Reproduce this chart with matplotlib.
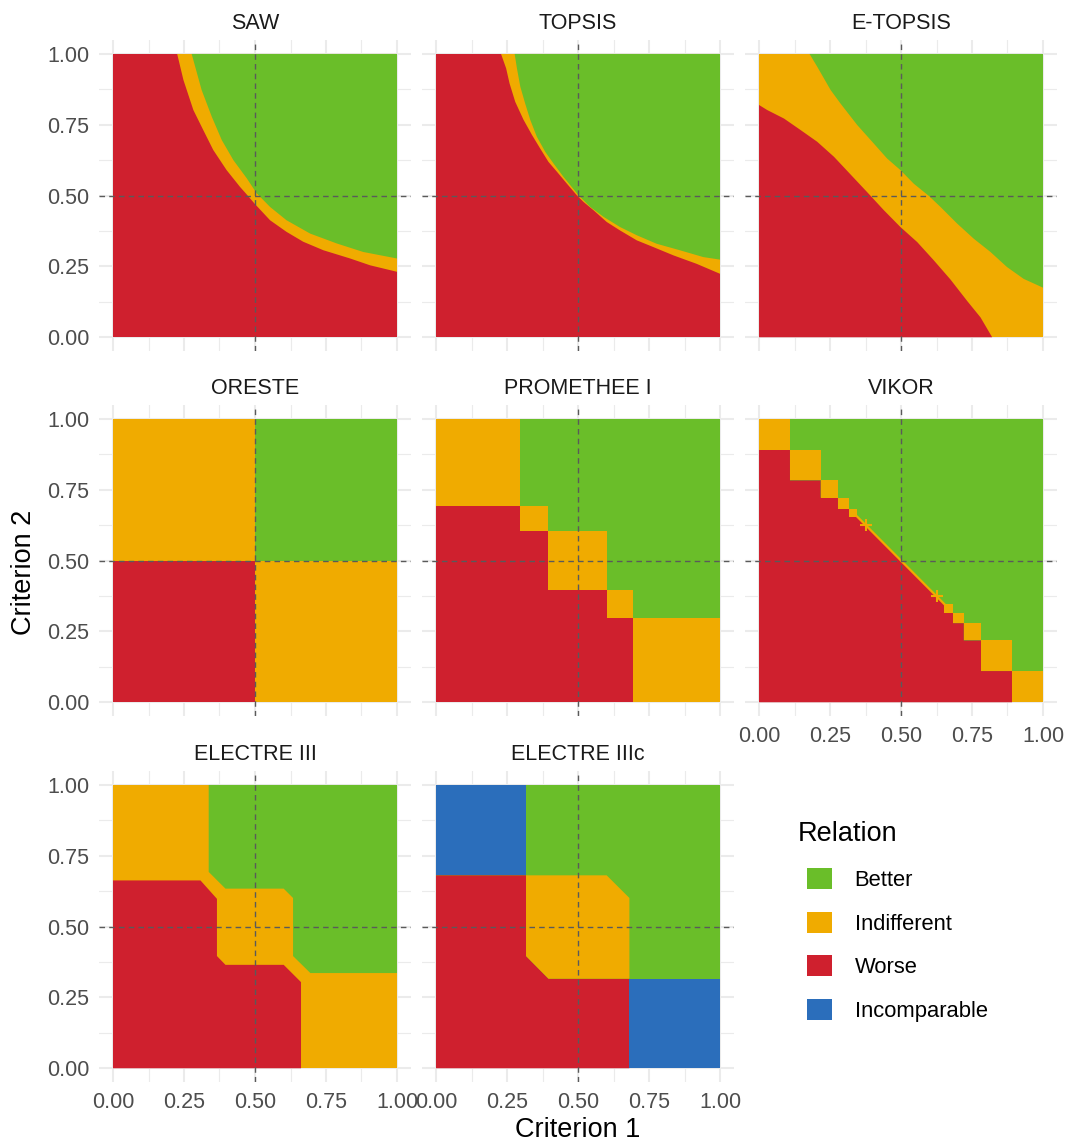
import matplotlib.pyplot as plt
from matplotlib.patches import Patch

plt.rcParams['font.family'] = ['Liberation Sans', 'DejaVu Sans']

# categories / styling
relations = ['Better', 'Indifferent', 'Worse', 'Incomparable']
rel_colors = {'Better': '#6ABE29', 'Indifferent': '#F0AB00',
              'Worse': '#CF202E', 'Incomparable': '#2B6EBB'}
methods = ['SAW', 'TOPSIS', 'E-TOPSIS', 'ORESTE', 'PROMETHEE I', 'VIKOR',
           'ELECTRE III', 'ELECTRE IIIc']
tick_vals = [0.0, 0.25, 0.5, 0.75, 1.0]
tick_labels = ['0.00', '0.25', '0.50', '0.75', '1.00']

# --- boundaries (Criterion 1, Criterion 2) ---
saw_worse_x = [0.226, 0.248, 0.283, 0.318, 0.353, 0.400, 0.447, 0.470, 0.500, 0.553, 0.611, 0.670, 0.741, 0.835, 0.905, 1.0]
saw_worse_y = [1.0, 0.908, 0.802, 0.731, 0.661, 0.590, 0.531, 0.505, 0.470, 0.413, 0.372, 0.337, 0.307, 0.278, 0.254, 0.231]
saw_better_x = [0.277, 0.312, 0.348, 0.383, 0.424, 0.471, 0.506, 0.553, 0.611, 0.694, 0.788, 0.881, 1.0]
saw_better_y = [1.0, 0.873, 0.778, 0.696, 0.625, 0.561, 0.508, 0.460, 0.413, 0.366, 0.331, 0.301, 0.278]

topsis_worse_x = [0.229, 0.247, 0.259, 0.279, 0.308, 0.338, 0.367, 0.396, 0.426, 0.461, 0.496, 0.519, 0.555, 0.601, 0.648, 0.707, 0.766, 0.836, 0.918, 1.0]
topsis_worse_y = [1.0, 0.949, 0.896, 0.831, 0.768, 0.714, 0.666, 0.619, 0.584, 0.542, 0.501, 0.478, 0.448, 0.407, 0.377, 0.342, 0.318, 0.289, 0.259, 0.224]
topsis_better_x = [0.277, 0.285, 0.297, 0.314, 0.332, 0.355, 0.385, 0.414, 0.449, 0.502, 0.543, 0.590, 0.648, 0.707, 0.777, 0.859, 0.941, 1.0]
topsis_better_y = [1.0, 0.949, 0.884, 0.825, 0.767, 0.708, 0.654, 0.613, 0.566, 0.501, 0.460, 0.425, 0.389, 0.360, 0.330, 0.307, 0.283, 0.274]

etopsis_better_x = [0.178, 0.205, 0.252, 0.287, 0.346, 0.404, 0.451, 0.498, 0.545, 0.598, 0.639, 0.698, 0.756, 0.815, 0.873, 0.932, 1.0]
etopsis_better_y = [1.0, 0.955, 0.873, 0.825, 0.749, 0.684, 0.631, 0.590, 0.542, 0.499, 0.460, 0.401, 0.348, 0.301, 0.248, 0.206, 0.175]
etopsis_worse_x = [0.0, 0.029, 0.088, 0.147, 0.205, 0.264, 0.322, 0.381, 0.440, 0.498, 0.557, 0.615, 0.674, 0.733, 0.780, 0.821]
etopsis_worse_y = [0.820, 0.802, 0.772, 0.731, 0.690, 0.637, 0.575, 0.512, 0.448, 0.389, 0.336, 0.272, 0.204, 0.128, 0.070, 0.0]

oreste_split = 0.5

prom_worse_x = [0.0, 0.0, 0.297, 0.297, 0.395, 0.395, 0.603, 0.603, 0.693, 0.693]
prom_worse_y = [0.0, 0.692, 0.692, 0.604, 0.604, 0.395, 0.395, 0.296, 0.296, 0.0]
prom_indiff_rects = [(0.0, 0.297, 0.692, 1.0), (0.297, 0.395, 0.604, 0.692),
                     (0.395, 0.603, 0.395, 0.604), (0.603, 0.693, 0.296, 0.395),
                     (0.693, 1.0, 0.0, 0.296)]

vikor_worse_x = [0.0, 0.0, 0.109, 0.109, 0.217, 0.217, 0.278, 0.278, 0.317, 0.317, 0.346,
                 0.653, 0.653, 0.683, 0.683, 0.721, 0.721, 0.782, 0.782, 0.891, 0.891]
vikor_worse_y = [0.0, 0.892, 0.892, 0.783, 0.783, 0.722, 0.722, 0.683, 0.683, 0.655, 0.655,
                 0.346, 0.315, 0.315, 0.279, 0.279, 0.218, 0.218, 0.110, 0.110, 0.0]
vikor_indiff_rects = [(0.0, 0.109, 0.892, 1.0), (0.109, 0.217, 0.783, 0.892),
                      (0.217, 0.278, 0.722, 0.783), (0.278, 0.317, 0.683, 0.722),
                      (0.317, 0.346, 0.655, 0.683), (0.653, 0.683, 0.315, 0.346),
                      (0.683, 0.721, 0.279, 0.315), (0.721, 0.782, 0.218, 0.279),
                      (0.782, 0.891, 0.110, 0.218), (0.891, 1.0, 0.0, 0.110)]
vikor_diag_x = [0.346, 0.653]
vikor_diag_y = [0.655, 0.346]
vikor_spark_x = [0.375, 0.625]
vikor_spark_y = [0.625, 0.376]

e3_better_x = [0.337, 0.337, 0.396, 0.601, 0.634, 0.634, 0.695, 1.0, 1.0]
e3_better_y = [1.0, 0.693, 0.634, 0.634, 0.601, 0.396, 0.336, 0.336, 1.0]
e3_worse_x = [0.0, 0.0, 0.308, 0.366, 0.366, 0.396, 0.601, 0.662, 0.662]
e3_worse_y = [0.0, 0.663, 0.663, 0.598, 0.396, 0.365, 0.365, 0.304, 0.0]

e3c_incomp_rects = [(0.0, 0.317, 0.681, 1.0), (0.681, 1.0, 0.0, 0.316)]
e3c_worse_x = [0.0, 0.0, 0.317, 0.317, 0.396, 0.681, 0.681]
e3c_worse_y = [0.0, 0.681, 0.681, 0.396, 0.316, 0.316, 0.0]
e3c_indiff_x = [0.317, 0.601, 0.681, 0.681, 0.396, 0.317]
e3c_indiff_y = [0.681, 0.681, 0.601, 0.316, 0.316, 0.396]


def rect(r):
    x0, x1, y0, y1 = r
    return [x0, x1, x1, x0], [y0, y0, y1, y1]


# build layered regions: (background, [(relation, xs, ys), ...])
panels = {
    'SAW': ('Worse', [('Indifferent', saw_worse_x + [1.0], saw_worse_y + [1.0]),
                      ('Better', saw_better_x + [1.0], saw_better_y + [1.0])]),
    'TOPSIS': ('Worse', [('Indifferent', topsis_worse_x + [1.0], topsis_worse_y + [1.0]),
                         ('Better', topsis_better_x + [1.0], topsis_better_y + [1.0])]),
    'E-TOPSIS': ('Indifferent', [('Better', etopsis_better_x + [1.0], etopsis_better_y + [1.0]),
                                 ('Worse', [0.0] + etopsis_worse_x, [0.0] + etopsis_worse_y)]),
    'ORESTE': ('Indifferent', [('Worse', *rect((0.0, oreste_split, 0.0, oreste_split))),
                               ('Better', *rect((oreste_split, 1.0, oreste_split, 1.0)))]),
    'PROMETHEE I': ('Better', [('Worse', prom_worse_x, prom_worse_y)] +
                    [('Indifferent', *rect(r)) for r in prom_indiff_rects]),
    'VIKOR': ('Better', [('Worse', vikor_worse_x, vikor_worse_y)] +
              [('Indifferent', *rect(r)) for r in vikor_indiff_rects]),
    'ELECTRE III': ('Indifferent', [('Better', e3_better_x, e3_better_y),
                                    ('Worse', e3_worse_x, e3_worse_y)]),
    'ELECTRE IIIc': ('Better', [('Worse', e3c_worse_x, e3c_worse_y),
                                ('Indifferent', e3c_indiff_x, e3c_indiff_y)] +
                     [('Incomparable', *rect(r)) for r in e3c_incomp_rects]),
}

W, H = 1070, 1148
fig = plt.figure(figsize=(W / 100, H / 100), dpi=100)

col_left = [98.8, 421.8, 744.8]
row_top = [39.8, 404.8, 770.8]
pw, ph = 312.4, 311.6

for i, name in enumerate(methods):
    r, c = divmod(i, 3)
    ax = fig.add_axes([col_left[c] / W, 1 - (row_top[r] + ph) / H, pw / W, ph / H])
    ax.set_xlim(-0.05, 1.05)
    ax.set_ylim(-0.05, 1.05)
    ax.set_axisbelow(True)
    bg, layers = panels[name]
    ax.fill([0, 1, 1, 0], [0, 0, 1, 1], color=rel_colors[bg], lw=0, zorder=1)
    for rel, xs, ys in layers:
        ax.fill(xs, ys, color=rel_colors[rel], lw=0, zorder=2)
    if name == 'VIKOR':
        ax.plot(vikor_diag_x, vikor_diag_y, color=rel_colors['Indifferent'], lw=1.6, zorder=3)
        ax.plot(vikor_spark_x, vikor_spark_y, '+', color=rel_colors['Indifferent'],
                ms=8, mew=1.5, zorder=3)
    ax.axvline(0.5, color='#5a5a5a', lw=1.0, ls=(0, (4, 3)), zorder=4)
    ax.axhline(0.5, color='#5a5a5a', lw=1.0, ls=(0, (4, 3)), zorder=4)

    ax.set_xticks(tick_vals)
    ax.set_yticks(tick_vals)
    ax.set_xticks([0.125, 0.375, 0.625, 0.875], minor=True)
    ax.set_yticks([0.125, 0.375, 0.625, 0.875], minor=True)
    ax.grid(which='major', color='#EBEBEB', lw=1.5)
    ax.grid(which='minor', color='#EBEBEB', lw=0.8)
    for s in ax.spines.values():
        s.set_visible(False)
    ax.tick_params(which='both', length=0, labelsize=15.5, labelcolor='#4D4D4D', pad=7)
    ax.set_xticklabels(tick_labels)
    ax.set_yticklabels(tick_labels)
    show_x = r == 2 or name == 'VIKOR'
    ax.tick_params(labelbottom=show_x, labelleft=(c == 0))
    ax.set_title(name, fontsize=15.5, color='#1A1A1A', pad=8)

fig.text(578 / W, 1 - 1130 / H, 'Criterion 1', ha='center', va='center', fontsize=19.5)
fig.text(24 / W, 1 - 572 / H, 'Criterion 2', ha='center', va='center', fontsize=19.5,
         rotation=90)

fig.text(798 / W, 1 - 834 / H, 'Relation', ha='left', va='center', fontsize=19.5)
handles = [Patch(facecolor=rel_colors[k], edgecolor='none') for k in relations]
fig.legend(handles, relations, loc='upper left', bbox_to_anchor=(807 / W, 1 - 868 / H),
           frameon=False, fontsize=15.8,
           handlelength=1.12, handleheight=1.12, labelspacing=0.93, handletextpad=1.05,
           borderpad=0, borderaxespad=0)

fig.savefig('out.png', dpi=100)
